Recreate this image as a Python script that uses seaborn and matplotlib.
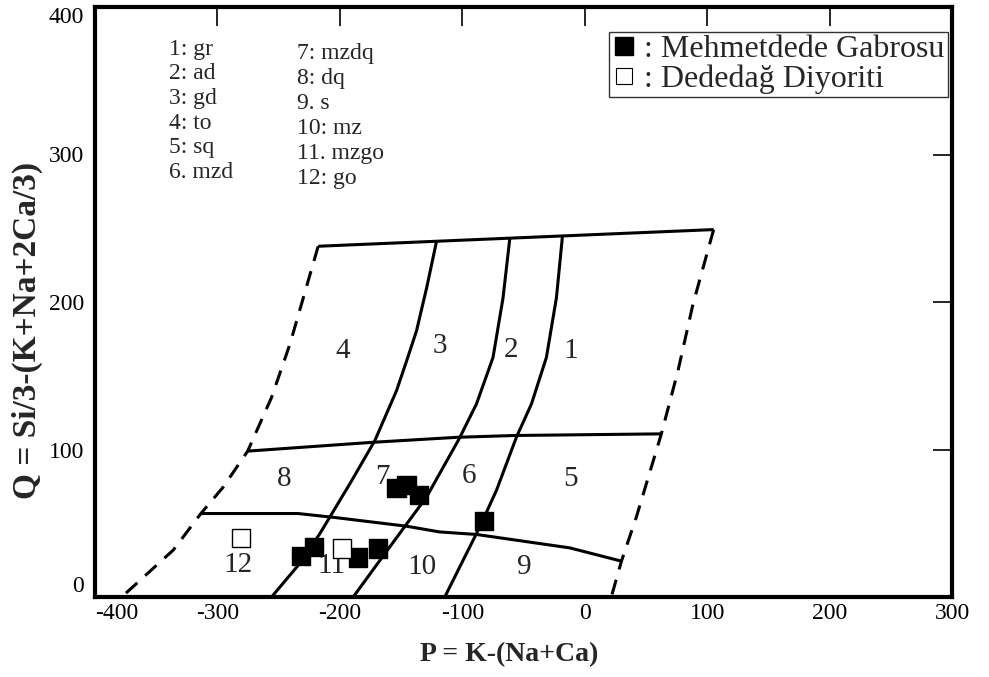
import matplotlib
matplotlib.use("Agg")
import matplotlib.pyplot as plt
import pandas as pd
import seaborn as sns
from matplotlib.lines import Line2D

# ---- sample points, P = K-(Na+Ca), Q = Si/3-(K+Na+2Ca/3) ----
mehmetdede_p = [-231.8, -221.0, -185.0, -168.7, -153.7, -145.6, -135.2, -82.2]
mehmetdede_q = [27.7, 33.6, 26.8, 32.9, 74.1, 75.7, 68.9, 51.4]
dededag_p = [-280.8, -198.6]
dededag_q = [39.7, 32.9]

# ---- field boundaries (Debon & Le Fort P-Q diagram) ----
top_p = [-217.7, 105.3]
top_q = [237.8, 249.1]
mid_p = [-275.3, -172.8, -103.4, -57.1, 62.6]
mid_q = [98.9, 104.9, 108.3, 109.5, 110.6]
low_p = [-313.5, -234.3, -204.1, -145.6, -118.4, -88.4, -12.2, 30.0]
low_q = [56.6, 56.6, 53.9, 48.0, 44.1, 42.4, 33.3, 24.3]
c3_p = [-121.1, -129.0, -137.4, -145.5, -153.7, -171.4, -191.8, -216.3, -232.7, -255.8]
c3_q = [240.9, 210.0, 180.4, 160.0, 139.9, 106.1, 76.8, 43.0, 22.8, 0.0]
c2_p = [-61.2, -66.7, -74.9, -88.4, -102.6, -129.2, -159.2, -189.1]
c2_q = [243.0, 202.9, 162.4, 130.9, 107.2, 67.8, 34.0, 0.0]
c1_p = [-18.2, -23.1, -31.3, -43.5, -55.8, -72.1, -85.7, -99.3, -114.3]
c1_q = [244.5, 202.9, 162.4, 130.9, 108.3, 72.3, 47.5, 25.0, 0.0]
left_p = [-217.7, -240.8, -255.8, -275.3, -295.3, -313.5, -336.1, -378.2]
left_q = [237.8, 171.4, 135.3, 98.9, 74.5, 56.6, 31.8, 0.0]
right_p = [105.3, 88.4, 76.2, 62.6, 42.2, 30.0, 21.7]
right_q = [249.1, 198.4, 153.4, 110.6, 54.3, 24.3, 0.0]

region_names = ["1", "2", "3", "4", "5", "6", "7", "8", "9", "10", "11", "12"]
region_p = [-11.4, -60.4, -118.4, -197.6, -11.4, -94.7, -164.9, -245.7, -49.0, -133.1, -206.5, -283.3]
region_q = [166.9, 167.6, 170.3, 166.9, 79.7, 81.8, 81.1, 79.7, 20.3, 20.3, 20.9, 21.6]

key_left = ["1: gr", "2: ad", "3: gd", "4: to", "5: sq", "6. mzd"]
key_right = ["7: mzdq", "8: dq", "9. s", "10: mz", "11. mzgo", "12: go"]

groups = ["Mehmetdede Gabrosu", "Dededağ Diyoriti"]

df = pd.DataFrame({
    "P": mehmetdede_p + dededag_p,
    "Q": mehmetdede_q + dededag_q,
    "group": [groups[0]] * len(mehmetdede_p) + [groups[1]] * len(dededag_p),
})

sns.set_theme(style="white")
plt.rcParams["font.family"] = ["Liberation Serif", "DejaVu Serif"]
plt.rcParams["axes.unicode_minus"] = False

fig = plt.figure(figsize=(9.89, 6.77), dpi=100)
ax = fig.add_axes([95 / 989, 1 - 597 / 677, (952 - 95) / 989, (597 - 7) / 677])

solid = dict(color="black", lw=2.2, zorder=2, solid_capstyle="butt")
dashed = dict(color="black", lw=2.2, zorder=2, linestyle=(0, (5, 3.5)))
for xs, ys in [(top_p, top_q), (mid_p, mid_q), (low_p, low_q),
               (c1_p, c1_q), (c2_p, c2_q), (c3_p, c3_q)]:
    ax.plot(xs, ys, **solid)
ax.plot(left_p, left_q, **dashed)
ax.plot(right_p, right_q, **dashed)

for name, x, y in zip(region_names, region_p, region_q):
    ax.text(x, y, name, fontsize=21, ha="center", va="center", zorder=3)

for i, t in enumerate(key_left):
    ax.text(-339.3, 371.3 - i * 16.7, t, fontsize=17, ha="left", va="center")
for i, t in enumerate(key_right):
    ax.text(-235.3, 368.4 - i * 16.9, t, fontsize=17, ha="left", va="center")

sns.scatterplot(data=df, x="P", y="Q", hue="group",
                palette={groups[0]: "black", groups[1]: "white"},
                marker="s", s=170, edgecolor="black", linewidth=1,
                legend=False, zorder=5, ax=ax)

handles = [
    Line2D([], [], marker="s", linestyle="", color="black", markersize=13),
    Line2D([], [], marker="s", linestyle="", markerfacecolor="white",
           markeredgecolor="black", markeredgewidth=0.8, markersize=11),
]
leg = ax.legend(handles, [": " + g for g in groups], loc="upper left",
                bbox_to_anchor=(0.6, 0.958), fontsize=23, frameon=True,
                fancybox=False, handlelength=0.7, handletextpad=0.3,
                borderpad=0.1, labelspacing=0.0, borderaxespad=0)
leg.get_frame().set_edgecolor("black")
leg.get_frame().set_linewidth(1.0)

ax.set_xlim(-400, 300)
ax.set_ylim(0, 400)
ax.set_xticks(range(-400, 301, 100))
ax.set_yticks(range(0, 401, 100))
ax.tick_params(direction="in", length=14, width=1.2, top=True, right=True,
               labelsize=17, colors="black")
ax.tick_params(axis="x", pad=4)
ax.tick_params(axis="y", pad=8)
for sp in ax.spines.values():
    sp.set_linewidth(3)
    sp.set_color("black")

# corner labels sit inside the frame edges, as in the original
xt = ax.get_xticklabels()
xt[0].set_ha("left")
yt = ax.get_yticklabels()
yt[0].set_va("bottom")
yt[-1].set_va("top")

ax.set_xlabel("P = K-(Na+Ca)", fontsize=20, fontweight="bold")
ax.set_ylabel("Q = Si/3-(K+Na+2Ca/3)", fontsize=24, fontweight="bold")
ax.xaxis.set_label_coords((509 - 95) / (952 - 95), -(655 - 597) / 590)
ax.yaxis.set_label_coords(-(95 - 27) / 857, (597 - 330) / 590)
ax.xaxis.label.set_va("center")
ax.yaxis.label.set_va("center")

fig.savefig("out.png", dpi=100)
